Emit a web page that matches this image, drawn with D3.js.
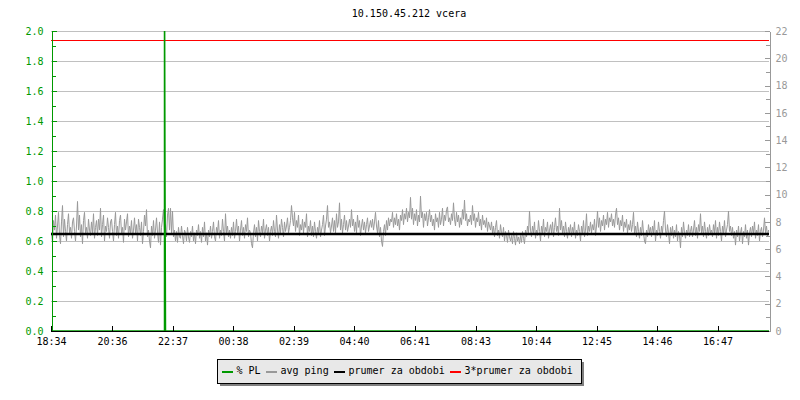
<!DOCTYPE html>
<html>
<head>
<meta charset="utf-8">
<script src="https://cdn.jsdelivr.net/npm/d3@7/dist/d3.min.js"></script>
<style>
  html, body { margin: 0; padding: 0; background: #fff; }
  svg { display: block; }
  text { font-family: "DejaVu Sans Mono", "Liberation Mono", monospace; font-size: 10px; }
</style>
</head>
<body>
<svg id="chart" width="800" height="400"></svg>
<script>
// ---------------- DATA ----------------
const title = "10.150.45.212 vcera";
const startTime = "18:34";
const spanMinutes = 1436;           // covered period (minutes)
const sampleStepMinutes = 2;        // ping sample spacing
const xTickLabels = ["18:34","20:36","22:37","00:38","02:39","04:40","06:41","08:43","10:44","12:45","14:46","16:47"];
const leftTicks = [0,0.2,0.4,0.6,0.8,1.0,1.2,1.4,1.6,1.8,2.0];
const rightTicks = [0,2,4,6,8,10,12,14,16,18,20,22];
// avg ping (ms)
const avgPing = [
 7.2,6.5,8.1,7.4,8.5,6.8,7.7,8.7,7.0,6.4,8.0,9.2,6.9,8.2,7.3,6.6,7.8,8.6,7.2,7.6,
 6.8,8.0,8.3,7.3,6.6,7.7,9.5,7.4,8.5,6.9,7.8,6.4,8.1,8.7,7.2,7.6,6.8,8.2,7.4,7.0,
 8.0,7.2,8.6,6.8,7.6,8.1,7.0,8.2,7.4,9.0,6.9,7.8,8.5,6.6,7.7,7.3,8.3,7.6,6.8,8.0,
 8.2,7.3,6.6,7.8,8.7,7.0,7.7,6.8,8.1,8.5,7.2,7.6,6.5,8.2,7.4,8.0,8.6,6.9,7.7,7.2,
 8.1,6.8,7.4,8.3,7.2,7.8,6.6,8.2,7.6,7.0,8.0,6.4,7.3,8.5,7.7,8.9,6.9,7.4,6.6,6.1,
 7.7,7.0,8.1,6.8,7.4,8.3,7.2,6.5,8.0,6.3,7.6,8.2,8.9,7.3,7.8,6.9,8.5,9.0,7.4,9.0,
 7.2,8.8,6.9,7.4,6.6,7.3,6.5,7.6,6.9,6.8,7.7,7.0,6.4,7.4,7.2,6.6,7.6,6.9,6.5,7.3,
 6.9,7.7,6.6,7.2,6.4,7.4,7.0,7.8,6.8,7.3,6.5,7.6,6.9,8.0,6.6,7.2,6.3,7.4,6.9,7.7,
 6.8,7.3,8.0,6.9,6.6,7.6,7.2,8.1,6.8,7.4,7.0,8.2,7.3,6.6,8.6,7.2,7.7,6.9,7.4,6.8,
 7.6,7.0,8.0,6.8,7.3,8.2,7.2,7.7,6.6,7.4,8.1,7.0,7.6,6.8,7.8,7.3,8.3,6.9,7.4,7.2,
 6.4,6.1,7.2,7.8,6.9,7.6,6.6,8.1,7.3,6.9,7.7,7.2,8.2,6.8,7.4,7.8,7.0,7.6,6.6,7.3,
 7.7,7.0,8.1,7.3,6.9,8.5,7.4,6.8,7.8,7.2,8.2,7.6,6.9,8.0,7.3,7.7,8.3,7.2,7.6,8.1,
 9.2,8.3,7.7,8.7,7.3,8.1,7.6,8.5,7.0,7.8,7.4,8.2,7.2,8.0,7.6,8.6,6.9,7.7,7.3,8.1,
 7.0,7.7,6.9,8.0,7.3,6.8,7.6,7.2,8.1,6.9,7.4,7.8,8.5,7.0,7.7,8.2,9.2,7.6,8.0,7.2,
 7.7,8.3,7.3,8.1,7.2,8.6,7.6,8.0,9.4,7.4,8.2,7.2,7.8,8.5,7.4,8.1,7.3,7.7,8.2,7.6,
 8.9,7.7,8.2,7.3,8.0,7.2,8.5,7.6,8.1,7.0,7.7,8.2,7.4,8.0,7.2,7.8,8.3,7.3,7.7,8.1,
 7.6,8.2,7.4,8.0,8.7,7.7,7.2,8.1,6.9,7.6,6.6,6.2,7.3,7.8,7.0,8.1,7.4,8.3,7.7,8.2,
 8.0,8.7,7.6,8.3,7.8,8.6,7.7,8.2,7.4,8.5,8.1,8.9,7.8,8.6,8.2,9.0,8.0,8.7,8.3,9.8,
 8.2,9.0,7.8,8.6,8.1,8.9,7.7,8.5,8.0,9.9,8.3,8.7,7.6,8.6,8.1,8.7,7.7,8.3,8.9,8.0,
 8.5,7.7,8.2,7.4,8.6,8.0,8.3,7.6,8.7,7.8,8.2,9.0,7.7,8.5,8.1,8.9,9.1,8.0,8.3,7.8,
 8.6,8.1,9.4,8.2,7.7,8.7,8.0,8.5,7.6,8.3,7.8,8.9,8.2,9.6,8.1,8.6,7.7,8.2,8.0,8.5,
 7.8,9.2,8.1,8.6,7.6,8.3,8.0,8.7,7.7,8.2,7.4,8.5,7.8,8.1,7.6,8.3,7.3,8.0,7.7,7.4,
 8.0,7.2,7.7,6.9,7.6,8.1,7.0,7.4,6.8,7.8,7.2,6.9,7.6,6.6,7.3,7.0,6.5,7.4,6.9,6.6,
 7.0,6.4,7.3,6.8,6.3,7.2,6.6,6.9,6.4,7.0,6.5,7.3,6.8,6.4,7.4,6.9,7.7,7.2,8.8,7.4,
 6.9,7.7,7.2,8.0,6.8,7.4,7.0,8.1,7.3,6.6,7.7,7.2,8.2,6.9,7.6,7.3,8.0,6.8,7.4,7.8,
 7.2,8.0,6.9,7.6,8.3,7.3,7.7,7.0,9.0,7.4,8.1,7.2,7.7,6.9,8.0,7.3,6.8,7.6,7.2,7.8,
 6.9,7.6,7.2,8.0,6.8,7.4,7.0,7.8,7.3,6.6,7.7,7.2,8.1,6.9,7.4,8.6,7.0,7.7,7.3,8.0,
 7.2,7.8,7.4,8.2,7.0,7.7,8.8,7.6,8.3,7.3,8.1,7.7,8.5,7.4,8.2,7.8,8.7,7.6,8.3,8.0,
 8.6,7.7,8.2,7.6,8.5,9.0,7.8,8.3,7.4,8.1,7.7,8.5,7.3,8.0,7.6,8.2,7.2,7.8,7.4,8.1,
 7.3,7.8,8.7,7.2,7.7,6.9,8.0,7.3,6.8,7.6,7.0,8.1,7.2,6.6,6.4,7.4,6.9,7.8,7.2,7.6,
 6.9,7.7,7.2,8.1,6.6,7.4,7.0,8.0,7.3,6.8,7.7,7.2,8.1,8.8,7.4,6.9,7.8,7.2,6.4,7.6,
 7.0,7.7,6.8,7.4,6.9,7.8,6.6,7.3,7.0,6.1,7.6,6.9,8.0,7.2,6.8,7.4,7.0,7.8,6.9,7.3,
 7.7,6.9,7.4,8.1,7.0,7.6,6.8,7.8,7.3,8.6,7.2,7.7,6.9,8.0,7.3,6.8,7.6,7.0,7.8,7.2,
 7.4,6.9,7.8,7.2,8.1,6.8,7.6,7.0,8.0,7.3,6.6,7.7,7.2,8.1,6.9,7.4,7.8,8.8,7.3,7.7,
 7.0,7.6,6.8,7.3,6.3,7.4,6.9,7.7,6.6,7.2,7.6,6.4,7.3,6.9,7.8,6.8,7.4,6.3,7.2,7.6,
 6.9,7.7,7.2,8.0,6.8,7.4,7.0,7.8,6.6,7.3,7.6,6.9,7.4,8.3,7.2,7.7,6.9,7.4,7.2,7.6
];
// packet loss (%) — only non-zero around 22:20
const plMinutes = [0, 226, 226, 227, 228, 1436];
const plValues  = [0, 0, 2.4, 1.0, 0, 0];
const periodAvg = 7.11;             // prumer za obdobi (ms)
const periodAvgFactor = 3;          // 3*prumer
const legendLabels = ["% PL", "avg ping", "prumer za obdobi", "3*prumer za obdobi"];

// ---------------- LAYOUT ----------------
const svg = d3.select("#chart");
const L = 51, R = 769, T = 31, B = 331;
const GREEN = "#009900", GRAY = "#999999", GRID = "#c0c0c0";

const x = d3.scaleLinear().domain([0, spanMinutes]).range([L, R]);
const yL = d3.scaleLinear().domain([0, 2]).range([B, T]);
const yR = d3.scaleLinear().domain([0, 22]).range([B, T]);

const toMin = s => { const [h,m] = s.split(":").map(Number); return h*60+m; };
const t0 = toMin(startTime);
const tickMinutes = xTickLabels.map(s => { let d = toMin(s) - t0; if (d < 0) d += 1440; return d; });

// title
svg.append("text").attr("x", 409).attr("y", 17).attr("text-anchor", "middle")
  .attr("fill", "#000").text(title);

// grid
svg.append("g").selectAll("line").data(leftTicks.filter(v => v > 0)).join("line")
  .attr("x1", L).attr("x2", R).attr("y1", d => Math.round(yL(d)) + 0.5).attr("y2", d => Math.round(yL(d)) + 0.5)
  .attr("stroke", GRID).attr("stroke-width", 1);

// clip
svg.append("clipPath").attr("id", "clip").append("rect")
  .attr("x", L).attr("y", T).attr("width", R - L).attr("height", B - T);

const plot = svg.append("g").attr("clip-path", "url(#clip)");

// avg ping
plot.append("path")
  .datum(avgPing.map((v, i) => [i * sampleStepMinutes, v]))
  .attr("fill", "none").attr("stroke", GRAY).attr("stroke-width", 1)
  .attr("d", d3.line().x(d => x(d[0]) + 0.5).y(d => yR(d[1])));

// period average
plot.append("line")
  .attr("x1", L).attr("x2", R).attr("y1", yR(periodAvg)).attr("y2", yR(periodAvg))
  .attr("stroke", "#000").attr("stroke-width", 2.5);

// 3 * period average
plot.append("line")
  .attr("x1", L).attr("x2", R)
  .attr("y1", Math.round(yR(periodAvg * periodAvgFactor)) + 0.5)
  .attr("y2", Math.round(yR(periodAvg * periodAvgFactor)) + 0.5)
  .attr("stroke", "#ff0000").attr("stroke-width", 1);

// packet loss
const plData = plMinutes.map((m, i) => [m, plValues[i]]);
plot.append("path")
  .datum(plData)
  .attr("fill", "none").attr("stroke", GREEN).attr("stroke-width", 1.5)
  .attr("d", d3.line().x(d => x(d[0]) + 0.5).y(d => yL(d[1])));

// left axis (green)
const leftMinor = d3.range(0, 21).map(i => i / 10);
const gL = svg.append("g").attr("transform", `translate(${L + 0.5},0)`);
gL.call(d3.axisLeft(yL).tickValues(leftMinor).tickSizeInner(-4).tickSizeOuter(0).tickFormat(""));
gL.append("g").call(d3.axisLeft(yL).tickValues(leftTicks).tickSizeInner(-5).tickSizeOuter(0)
  .tickPadding(8).tickFormat(d3.format(".1f")));
gL.selectAll("path, line").attr("stroke", GREEN).attr("shape-rendering", "crispEdges");
gL.selectAll("text").attr("fill", GREEN).style("font-family", '"DejaVu Sans Mono", monospace').style("font-size", "10px");

// right axis (gray)
const rightMinor = d3.range(0, 23);
const gR = svg.append("g").attr("transform", `translate(${R + 0.5},0)`);
gR.call(d3.axisRight(yR).tickValues(rightMinor).tickSizeInner(-4).tickSizeOuter(0).tickFormat(""));
gR.append("g").call(d3.axisRight(yR).tickValues(rightTicks).tickSizeInner(-5).tickSizeOuter(0)
  .tickPadding(6).tickFormat(d3.format("d")));
gR.selectAll("path, line").attr("stroke", GRAY).attr("shape-rendering", "crispEdges");
gR.selectAll("text").attr("fill", GRAY).style("font-family", '"DejaVu Sans Mono", monospace').style("font-size", "10px");

// bottom axis
const gB = svg.append("g").attr("transform", `translate(0,${B + 0.5})`);
gB.call(d3.axisBottom(x).tickValues(tickMinutes).tickSizeInner(-6).tickSizeOuter(0)
  .tickPadding(6).tickFormat((d, i) => xTickLabels[i]));
gB.selectAll("path, line").attr("stroke", "#000").attr("shape-rendering", "crispEdges");
gB.select(".domain").attr("d", `M${L},0H${R}`);
gB.selectAll("text").attr("fill", "#000").style("font-family", '"DejaVu Sans Mono", monospace').style("font-size", "10px");

// legend
const lgX = 217, lgY = 359, lgW = 364, lgH = 24;
svg.append("rect").attr("x", lgX + 3).attr("y", lgY + 3).attr("width", lgW).attr("height", lgH).attr("fill", "#808080");
svg.append("rect").attr("x", lgX + 0.5).attr("y", lgY + 0.5).attr("width", lgW).attr("height", lgH)
  .attr("fill", "#e8e8e8").attr("stroke", "#000").attr("stroke-width", 1);
const legendColors = [GREEN, GRAY, "#000", "#ff0000"];
const legendSampleX = [222, 266, 334, 450];
const lg = svg.append("g").selectAll("g").data(legendLabels).join("g")
  .attr("transform", (d, i) => `translate(${legendSampleX[i]},372)`);
lg.append("line").attr("x1", 0).attr("x2", 11).attr("y1", 0).attr("y2", 0)
  .attr("stroke", (d, i) => legendColors[i]).attr("stroke-width", 2);
lg.append("text").attr("x", 14.5).attr("y", 2).attr("fill", "#000").text(d => d);
</script>
</body>
</html>
